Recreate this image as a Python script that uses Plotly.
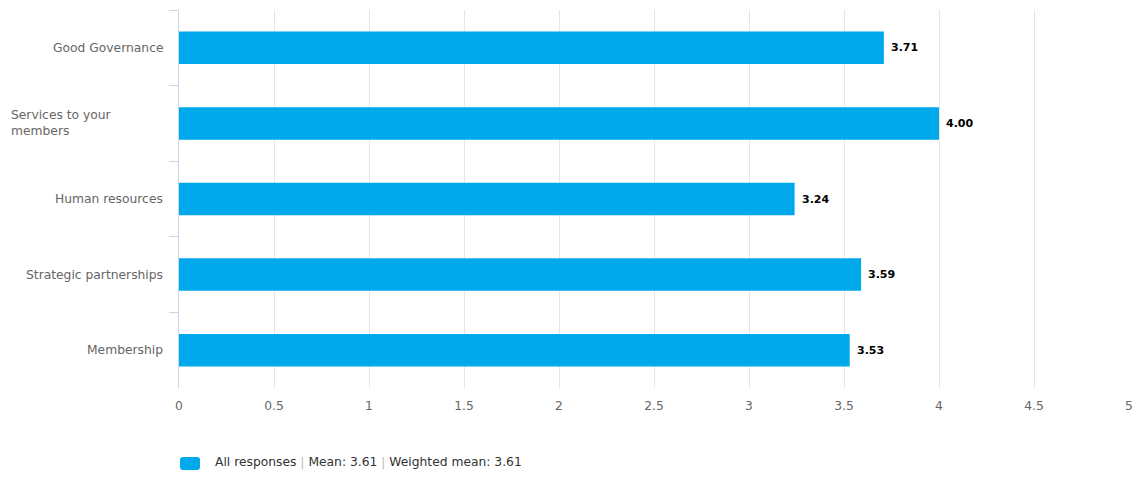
import plotly.graph_objects as go

# Survey areas (top to bottom) and their mean scores
categories = [
    "Good Governance",
    "Services to your<br>members",
    "Human resources",
    "Strategic partnerships",
    "Membership",
]
scores = [3.71, 4.00, 3.24, 3.59, 3.53]
x_ticks = [0, 0.5, 1, 1.5, 2, 2.5, 3, 3.5, 4, 4.5, 5]
x_tick_labels = ["0", "0.5", "1", "1.5", "2", "2.5", "3", "3.5", "4", "4.5", "5"]
series_name = ("All responses <span style='color:#bbbbbb'>|</span> Mean: 3.61 "
               "<span style='color:#bbbbbb'>|</span> Weighted mean: 3.61")

BAR_COLOR = "#00a9ec"
FONT = "DejaVu Sans, Verdana, sans-serif"
LABEL_SIZE = 12.3

fig = go.Figure()
fig.add_trace(go.Bar(
    y=categories,
    x=scores,
    orientation="h",
    name=series_name,
    marker=dict(color=BAR_COLOR, line=dict(width=0)),
    width=0.43,
    showlegend=False,
))

# Value labels to the right of each bar
for cat, v in zip(categories, scores):
    fig.add_annotation(
        x=v, xref="x", y=cat, yref="y", text=f"<b>{v:.2f}</b>",
        showarrow=False, xanchor="left", xshift=5,
        font=dict(family=FONT, size=11, color="#000000"),
    )

# Category labels: single-line labels right-aligned next to the axis,
# wrapped labels left-aligned as a block
for cat in categories:
    if "<br>" in cat:
        fig.add_annotation(
            x=0, xref="paper", y=cat, yref="y", text=cat, showarrow=False,
            xanchor="left", align="left", xshift=-170,
            font=dict(family=FONT, size=LABEL_SIZE, color="#666666"),
        )
    else:
        fig.add_annotation(
            x=0, xref="paper", y=cat, yref="y", text=cat, showarrow=False,
            xanchor="right", align="right", xshift=-14,
            font=dict(family=FONT, size=LABEL_SIZE, color="#666666"),
        )

# Legend: rounded swatch plus series description below the plot
fig.add_shape(
    type="path", xref="paper", yref="paper",
    path="M 0.0042,-0.1825 L 0.0190,-0.1825 Q 0.0221,-0.1825 0.0221,-0.19 "
         "L 0.0221,-0.209 Q 0.0221,-0.2169 0.0190,-0.2169 L 0.0042,-0.2169 "
         "Q 0.0011,-0.2169 0.0011,-0.209 L 0.0011,-0.19 Q 0.0011,-0.1825 0.0042,-0.1825 Z",
    fillcolor=BAR_COLOR, line=dict(width=0),
)
fig.add_annotation(
    x=0.0358, xref="paper", y=-0.198, yref="paper", text=series_name,
    showarrow=False, xanchor="left", yanchor="middle",
    font=dict(family=FONT, size=LABEL_SIZE, color="#333333"),
)

fig.update_layout(
    width=1138,
    height=478,
    margin=dict(l=179, r=9, t=10, b=90, autoexpand=False),
    paper_bgcolor="white",
    plot_bgcolor="white",
    font=dict(family=FONT, size=LABEL_SIZE, color="#666666"),
    bargap=0.57,
    showlegend=False,
    xaxis=dict(
        range=[0, 5],
        tickvals=x_ticks,
        ticktext=x_tick_labels,
        showgrid=True,
        gridcolor="#e6e6e6",
        gridwidth=1,
        zeroline=False,
        showline=False,
        ticks="",
        tickfont=dict(family=FONT, size=LABEL_SIZE, color="#666666"),
        ticklabelstandoff=9,
        fixedrange=True,
    ),
    yaxis=dict(
        autorange="reversed",
        showticklabels=False,
        showgrid=False,
        zeroline=False,
        showline=True,
        linecolor="#ccd6eb",
        linewidth=1,
        ticks="outside",
        tickson="boundaries",
        ticklen=9,
        tickcolor="#ccd6eb",
        fixedrange=True,
    ),
)

fig.write_html("out.html")
